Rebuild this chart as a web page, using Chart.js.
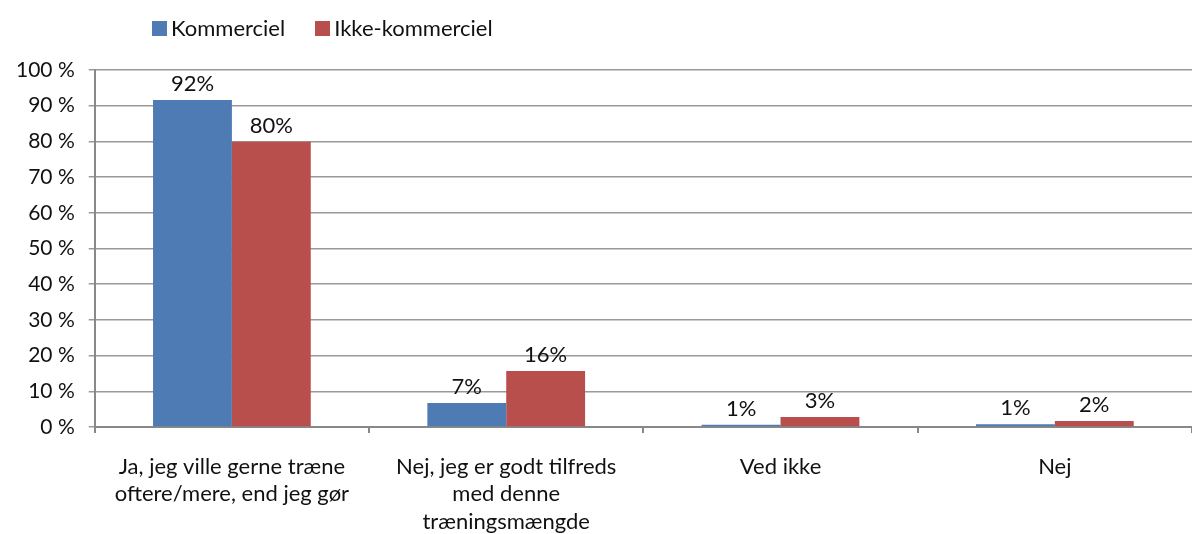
<!DOCTYPE html>
<html>
<head>
<meta charset="utf-8">
<script src="https://cdn.jsdelivr.net/npm/chart.js@4/dist/chart.umd.min.js"></script>
<style>
  body { margin: 0; background: #fff; }
  #wrap { position: relative; width: 1192px; height: 534px; }
  #legend { position: absolute; left: 152px; top: 14px; font-family: Lato, sans-serif; font-size: 22px; color: #111; }
  #legend span.item { margin-right: 30px; }
  #legend span.box { display: inline-block; width: 15px; height: 15px; margin-right: 4px; vertical-align: 0px; }
</style>
</head>
<body>
<div id="wrap">
  <div id="legend"></div>
  <canvas id="c" width="1192" height="534"></canvas>
</div>
<script>
const categories = [
    ['Ja, jeg ville gerne træne', 'oftere/mere, end jeg gør'],
    ['Nej, jeg er godt tilfreds', 'med denne', 'træningsmængde'],
    'Ved ikke',
    'Nej'
];
const seriesNames = ['Kommerciel', 'Ikke-kommerciel'];
const kommerciel = [91.6, 6.7, 0.6, 0.8];
const ikkeKommerciel = [79.9, 15.7, 2.8, 1.7];
const colors = ['#4f7bb4', '#b94f4d'];

// legend as plain html so it sits left like the original
const legendEl = document.getElementById('legend');
seriesNames.forEach((name, i) => {
    legendEl.innerHTML += `<span class="item"><span class="box" style="background:${colors[i]}"></span>${name}</span>`;
});

const barLabels = {
    id: 'barLabels',
    afterDatasetsDraw(chart) {
        const ctx = chart.ctx;
        ctx.save();
        ctx.font = '22px Lato, sans-serif';
        ctx.fillStyle = '#111';
        ctx.textAlign = 'center';
        ctx.textBaseline = 'bottom';
        chart.data.datasets.forEach((ds, di) => {
            chart.getDatasetMeta(di).data.forEach((bar, i) => {
                const txt = Math.round(ds.data[i]) + '%';
                ctx.fillText(txt, bar.x, bar.y - 5);
            });
        });
        ctx.restore();
    }
};

new Chart(document.getElementById('c'), {
    type: 'bar',
    data: {
        labels: categories,
        datasets: [
            { label: seriesNames[0], data: kommerciel, backgroundColor: colors[0] },
            { label: seriesNames[1], data: ikkeKommerciel, backgroundColor: colors[1] }
        ]
    },
    options: {
        responsive: false,
        animation: false,
        layout: { padding: { top: 70, right: 0, left: 2, bottom: 0 } },
        datasets: { bar: { categoryPercentage: 0.575, barPercentage: 1 } },
        plugins: { legend: { display: false }, tooltip: { enabled: false } },
        scales: {
            x: {
                afterFit(scale) { scale.height = 107; },
                grid: { drawOnChartArea: false, drawTicks: true, tickLength: 6, offset: true, color: '#888', lineWidth: 2 },
                border: { color: '#888', width: 2 },
                ticks: { color: '#111', font: { family: 'Lato, sans-serif', size: 22, lineHeight: 1.25 }, padding: 20, maxRotation: 0, autoSkip: false }
            },
            y: {
                min: 0, max: 100,
                grid: { color: '#999', lineWidth: 1.5, tickLength: 6 },
                border: { color: '#888', width: 2 },
                ticks: {
                    stepSize: 10,
                    color: '#111',
                    font: { family: 'Lato, sans-serif', size: 21 },
                    padding: 14,
                    callback: v => v + ' %'
                }
            }
        }
    },
    plugins: [barLabels]
});
</script>
</body>
</html>
